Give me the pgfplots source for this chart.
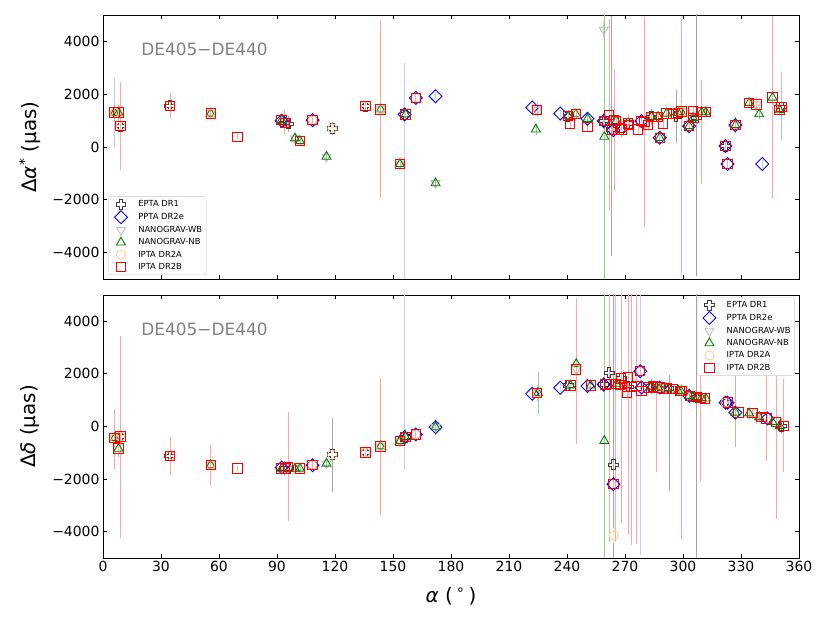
\documentclass[border=0pt]{standalone}
\usepackage{fontspec}
\setmainfont{DejaVu Sans}
\usepackage{pgfplots}
\pgfplotsset{compat=1.18}
\usetikzlibrary{plotmarks}
\definecolor{eptac}{RGB}{60,60,60}
\definecolor{peach}{RGB}{255,205,160}
\definecolor{silverc}{RGB}{190,190,190}
\definecolor{nbgreen}{RGB}{0,128,0}
\pgfdeclareplotmark{Pplus}{%
  \pgfpathmoveto{\pgfpoint{-0.35\pgfplotmarksize}{\pgfplotmarksize}}%
  \pgfpathlineto{\pgfpoint{0.35\pgfplotmarksize}{\pgfplotmarksize}}%
  \pgfpathlineto{\pgfpoint{0.35\pgfplotmarksize}{0.35\pgfplotmarksize}}%
  \pgfpathlineto{\pgfpoint{\pgfplotmarksize}{0.35\pgfplotmarksize}}%
  \pgfpathlineto{\pgfpoint{\pgfplotmarksize}{-0.35\pgfplotmarksize}}%
  \pgfpathlineto{\pgfpoint{0.35\pgfplotmarksize}{-0.35\pgfplotmarksize}}%
  \pgfpathlineto{\pgfpoint{0.35\pgfplotmarksize}{-\pgfplotmarksize}}%
  \pgfpathlineto{\pgfpoint{-0.35\pgfplotmarksize}{-\pgfplotmarksize}}%
  \pgfpathlineto{\pgfpoint{-0.35\pgfplotmarksize}{-0.35\pgfplotmarksize}}%
  \pgfpathlineto{\pgfpoint{-\pgfplotmarksize}{-0.35\pgfplotmarksize}}%
  \pgfpathlineto{\pgfpoint{-\pgfplotmarksize}{0.35\pgfplotmarksize}}%
  \pgfpathlineto{\pgfpoint{-0.35\pgfplotmarksize}{0.35\pgfplotmarksize}}%
  \pgfpathclose\pgfusepathqstroke}

\pgfplotsset{
  common/.style={
    scale only axis, width=696bp,
    xmin=0, xmax=360, ymin=-5000, ymax=5000,
    xtick={0,30,...,360}, ytick={-4000,-2000,0,2000,4000},
    yticklabels={−4000,−2000,0,2000,4000},
    xtick pos=both, ytick pos=both, tick align=inside,
    major tick length=4bp, minor tick num=0,
    tick style={black, line width=0.8pt},
    axis line style={black, line width=0.9pt},
    tick label style={font=\fontsize{14}{16}\selectfont},
    label style={font=\fontsize{20}{24}\selectfont},
    ylabel style={at={(axis description cs:-0.105,0.5)}, anchor=center},
    legend cell align=left,
    legend image code/.code={%
      \path[draw=none, fill=none] (0cm,0cm) -- (0.9cm,0cm);
      \draw[#1] plot coordinates {(0.36cm,0cm)};},
  },
  errs/.style={error bars/.cd, y dir=both, y explicit, error mark=none,
    error bar style={line width=0.7pt, draw=#1}},
  epta/.style={only marks, mark=Pplus, mark size=5pt, color=eptac, line width=0.9pt,
    errs={black!35}},
  ppta/.style={only marks, mark=square, mark size=4.6pt, mark options={rotate=45}, color=blue, line width=0.9pt,
    errs={blue!20}},
  wb/.style={only marks, mark=triangle, mark size=5.2pt, mark options={rotate=180}, color=silverc, line width=0.9pt,
    errs={black!20}},
  nb/.style={only marks, mark=triangle, mark size=5.2pt, color=nbgreen, line width=0.9pt,
    errs={nbgreen!40}},
  dra/.style={only marks, mark=o, mark size=4.6pt, color=peach, line width=0.9pt,
    errs={peach!60}},
  drb/.style={only marks, mark=square, mark size=4.7pt, color=red, line width=1pt,
    errs={red!35}},
}

\begin{document}
\begin{tikzpicture}
\path[use as bounding box] (0,0) rectangle (830bp,623bp);

% ---------------- top panel ----------------
\begin{axis}[common, height=264bp, at={(103bp,344bp)}, anchor=south west,
  xticklabels={},
  ylabel={Δ\textit{α}\textsuperscript{*} (μas)},
  legend style={at={(axis description cs:0.008,0.015)}, anchor=south west,
    font=\fontsize{8.4}{10}\selectfont, draw=black!20, rounded corners=2pt,
    row sep=0.6pt, inner sep=2pt}]
\addplot[epta] table[x=x,y=y,y error plus=ep,y error minus=em]{
x y ep em
9.1 790 300 300
34.6 1560 450 450
94.0 920 200 200
95.8 880 300 300
118.6 705 250 250
135.8 1547 200 200
156.5 1233 200 200
240.6 1170 200 200
259.0 981 300 300
263.0 668 4300 4780
268.2 668 300 300
271.6 894 200 200
283.7 1144 300 300
296.4 1150 1000 1000
307.1 1100 6000 6000
322.0 38 200 200
351.0 1515 300 300
};
\addlegendentry{EPTA DR1}
\addplot[ppta] table[x=x,y=y,y error plus=ep,y error minus=em]{
x y ep em
92.4 1000 150 150
108.4 1020 150 150
156.0 1233 1937 6500
161.8 1862 250 250
172.0 1925 150 150
222.0 1497 150 150
236.5 1270 150 150
250.6 1068 150 150
259.0 981 150 150
264.0 640 200 200
278.5 981 200 200
288.0 351 200 200
303.2 792 200 200
322.0 38 200 200
323.0 -642 200 200
327.1 830 200 200
341.0 -642 150 150
};
\addlegendentry{PPTA DR2e}
\addplot[wb] table[x=x,y=y,y error plus=ep,y error minus=em]{
x y ep em
6.0 1300 1300 1300
55.7 1270 200 200
99.3 328 200 200
115.6 -365 200 200
143.6 1422 300 300
153.6 -642 200 200
172.0 -1370 200 200
224.6 1396 300 300
259.0 4442 300 300
338.0 1610 300 300
};
\addlegendentry{NANOGRAV-WB}
\addplot[nb] table[x=x,y=y,y error plus=ep,y error minus=em]{
x y ep em
6.0 1300 300 300
8.0 1300 300 300
55.7 1270 200 200
92.4 1020 150 150
99.3 328 200 200
101.9 226 200 200
115.6 -365 200 200
143.6 1422 300 300
153.6 -642 200 200
156.5 1233 200 200
172.0 -1370 200 200
223.9 668 200 200
240.6 1170 200 200
244.6 1245 200 200
250.6 1068 200 200
259.3 390 6000 6000
265.5 990 200 200
283.7 1144 200 200
287.1 1144 200 200
288.0 351 200 200
291.5 1270 200 200
297.5 1295 200 200
299.0 1340 200 200
303.2 792 200 200
305.2 1100 200 200
309.6 1320 200 200
311.8 1320 200 200
327.1 830 300 300
334.2 1672 200 200
339.4 1245 200 200
346.3 1874 200 200
350.0 1396 200 200
};
\addlegendentry{NANOGRAV-NB}
\addplot[dra] table[x=x,y=y,y error plus=ep,y error minus=em]{
x y ep em
6.0 1300 200 200
9.1 790 200 200
34.6 1560 200 200
55.7 1270 200 200
108.4 1020 200 200
118.6 705 200 200
135.8 1547 200 200
143.6 1422 200 200
161.8 1862 200 200
224.6 1396 200 200
244.6 1245 200 200
299.3 1340 3000 7000
};
\addlegendentry{IPTA DR2A}
\addplot[drb] table[x=x,y=y,y error plus=ep,y error minus=em]{
x y ep em
6.0 1300 200 200
8.0 1300 200 200
9.1 790 1675 1660
34.6 1560 475 475
55.7 1270 200 200
69.6 390 100 100
92.4 1020 150 150
94.0 920 470 470
101.9 226 200 200
108.4 1020 150 150
135.8 1547 150 150
143.6 1422 3370 3350
153.6 -642 150 150
156.5 1233 150 150
161.8 1862 200 200
224.6 1396 200 200
240.6 1170 200 200
241.5 868 200 200
244.6 1245 200 200
250.6 767 200 200
259.0 981 200 200
261.8 1220 3630 3630
263.5 640 200 200
264.3 1000 1900 2650
265.5 990 200 200
267.3 720 200 200
268.2 668 300 300
271.6 894 300 300
272.0 840 200 200
276.8 668 200 200
278.5 981 200 200
280.0 950 3970 3970
282.0 830 200 200
283.7 1144 200 200
287.1 1144 200 200
288.0 351 200 200
289.7 894 200 200
291.5 1270 200 200
294.9 1250 200 200
297.5 1295 200 200
299.3 1340 3510 6130
303.2 792 200 200
305.2 1370 200 200
305.4 1100 200 200
309.6 1320 1210 2720
311.8 1320 200 200
322.0 38 200 200
323.0 -642 200 200
327.1 830 200 200
334.2 1672 200 200
338.0 1610 200 200
346.3 1874 3100 3840
350.0 1396 200 200
351.0 1515 1315 1265
};
\addlegendentry{IPTA DR2B}
\node[anchor=west, text=gray, font=\fontsize{17}{20}\selectfont] at (axis description cs:0.05,0.871) {DE405−DE440};
\end{axis}

% ---------------- bottom panel ----------------
\begin{axis}[common, height=263bp, at={(103bp,65bp)}, anchor=south west,
  xticklabels={0,30,60,90,120,150,180,210,240,270,300,330,360},
  xlabel={\textit{α} (\,\textsuperscript{∘}\,)},
  xlabel style={at={(axis description cs:0.5,-0.145)}, anchor=center},
  ylabel={Δ\textit{δ} (μas)},
  legend style={at={(axis description cs:0.994,0.992)}, anchor=north east,
    font=\fontsize{8.4}{10}\selectfont, draw=black!20, rounded corners=2pt,
    row sep=0.6pt, inner sep=2pt}]
\addplot[epta] table[x=x,y=y,y error plus=ep,y error minus=em]{
x y ep em
9.1 -380 500 500
34.6 -1120 300 300
94.0 -1598 300 300
95.8 -1598 300 300
118.6 -1069 1380 1410
135.8 -993 200 200
156.5 -403 300 300
240.6 1562 200 200
259.0 1600 300 300
261.8 2038 400 400
264.0 -1457 7000 4000
268.2 1823 300 300
271.6 1510 300 300
283.7 1520 300 300
292.7 1446 530 3890
307.1 1110 7000 7000
322.0 906 200 200
351.0 19 300 300
};
\addlegendentry{EPTA DR1}
\addplot[ppta] table[x=x,y=y,y error plus=ep,y error minus=em]{
x y ep em
92.4 -1560 150 150
108.4 -1472 150 150
156.0 -403 6000 1260
161.8 -302 250 250
172.0 -25 250 250
222.0 1245 150 150
236.5 1472 150 150
250.6 1540 150 150
259.0 1600 150 150
264.0 -2189 200 200
277.9 2102 5000 7000
278.5 1484 200 200
288.0 1484 200 200
303.2 1170 200 200
322.0 906 200 200
323.0 906 200 200
327.1 528 200 200
343.7 302 150 150
};
\addlegendentry{PPTA DR2e}
\addplot[wb] table[x=x,y=y,y error plus=ep,y error minus=em]{
x y ep em
6.0 -440 300 300
55.7 -1472 300 300
99.3 -1598 200 200
115.6 -1409 200 200
143.6 -755 300 300
153.6 -554 200 200
172.0 -25 200 200
224.6 1283 300 300
244.8 2166 300 300
338.0 400 300 300
};
\addlegendentry{NANOGRAV-WB}
\addplot[nb] table[x=x,y=y,y error plus=ep,y error minus=em]{
x y ep em
6.0 -440 300 300
8.0 -843 300 300
55.7 -1472 300 300
92.4 -1598 200 200
99.3 -1598 200 200
101.9 -1598 200 200
115.6 -1409 200 200
143.6 -755 300 300
153.6 -554 200 200
156.5 -403 200 200
172.0 -25 300 300
225.0 1283 800 800
241.8 1562 200 200
244.8 2378 200 200
252.3 1562 200 200
259.3 -547 7000 7000
265.5 1611 200 200
283.7 1520 200 200
287.1 1484 200 200
288.0 1484 200 200
291.5 1446 200 200
297.5 1360 200 200
299.0 1340 200 200
303.2 1170 200 200
305.2 1110 200 200
309.6 1090 200 200
311.8 1068 200 200
327.1 528 1400 1300
334.2 502 200 200
339.4 362 200 200
346.3 174 200 200
350.0 19 200 200
};
\addlegendentry{NANOGRAV-NB}
\addplot[dra] table[x=x,y=y,y error plus=ep,y error minus=em]{
x y ep em
6.0 -440 200 200
9.1 -380 200 200
34.6 -1120 200 200
55.7 -1472 200 200
108.4 -1472 200 200
118.6 -1069 200 200
135.8 -993 200 200
143.6 -755 200 200
161.8 -302 200 200
224.6 1283 200 200
244.8 2166 2700 2800
264.2 -4144 300 300
288.0 1484 200 200
322.0 906 200 200
};
\addlegendentry{IPTA DR2A}
\addplot[drb] table[x=x,y=y,y error plus=ep,y error minus=em]{
x y ep em
6.0 -440 1120 1160
8.0 -843 200 200
9.1 -377 3810 3850
34.6 -1120 720 720
55.7 -1472 755 755
69.6 -1598 100 100
92.4 -1598 150 150
94.0 -1598 200 200
95.8 -1535 2075 2075
101.9 -1598 200 200
108.4 -1472 200 200
135.8 -993 200 200
143.6 -755 2615 2605
153.6 -554 200 200
156.5 -403 200 200
161.8 -302 200 200
224.6 1283 200 200
241.8 1562 200 200
244.8 2166 2714 2838
252.3 1562 200 200
259.9 1600 200 200
261.8 1611 6000 6000
264.0 -2189 200 200
265.2 1611 6000 6000
267.3 1574 200 200
267.9 1823 5000 5500
271.0 1510 200 200
271.6 1861 6000 6000
271.0 1295 200 200
273.3 1500 6000 6000
276.0 1550 6000 6000
277.9 2102 200 200
278.5 1360 200 200
282.0 1484 200 200
284.6 1520 200 200
286.3 1484 240 3230
288.0 1484 200 200
291.5 1446 200 200
294.9 1422 200 200
298.3 1360 200 200
299.3 1340 260 5600
303.5 1170 200 200
307.0 1110 200 200
309.2 1090 890 3150
311.3 1068 200 200
323.2 906 200 200
328.7 528 200 200
335.9 502 200 200
340.6 362 200 200
343.2 302 2943 1602
348.1 174 1864 3684
352.0 19 1770 1755
};
\addlegendentry{IPTA DR2B}
\node[anchor=west, text=gray, font=\fontsize{17}{20}\selectfont] at (axis description cs:0.05,0.871) {DE405−DE440};
\end{axis}
\end{tikzpicture}
\end{document}
